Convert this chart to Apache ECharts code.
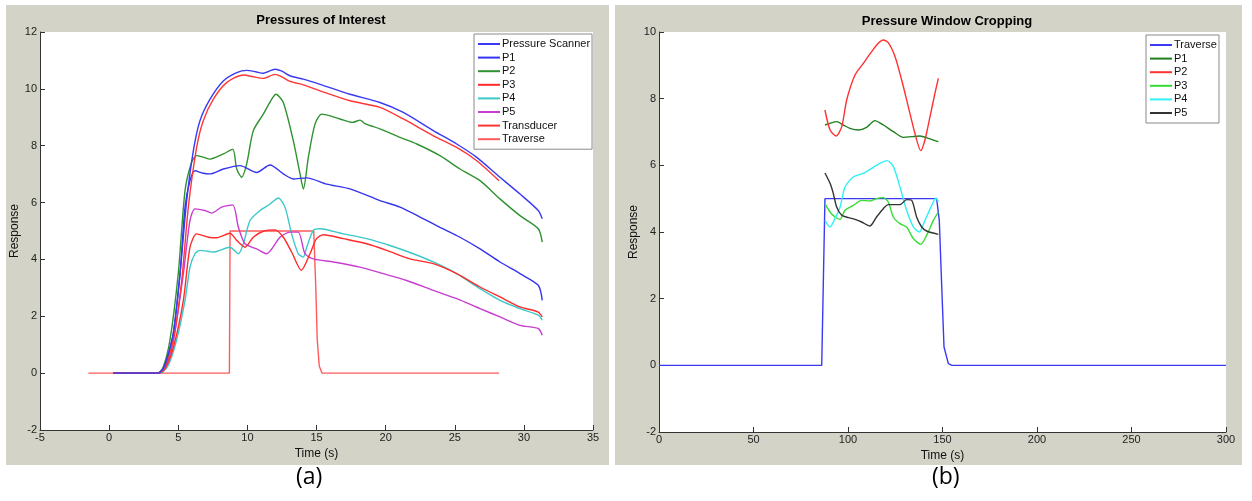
<!DOCTYPE html>
<html>
<head>
<meta charset="utf-8">
<script src="https://cdn.jsdelivr.net/npm/echarts@6/dist/echarts.min.js"></script>
<style>
  html, body { margin: 0; padding: 0; background: #ffffff; }
  #chart { width: 1252px; height: 501px; }
</style>
</head>
<body>
<div id="chart"></div>
<script>
// ---- (a) Pressures of Interest: [time (s), response] ----
const pressureScanner = [[0.3,0],[3.5,0],[3.9,0.15],[4.16,0.46],[4.64,1.39],[5.13,3.5],[5.61,6.07],[6.09,7.82],[6.57,8.88],[7.3,9.64],[8.26,10.28],[9.23,10.57],[9.95,10.65],[10.6,10.6],[11.15,10.55],[12.0,10.69],[12.5,10.62],[13.08,10.46],[14.05,10.34],[15.25,10.16],[17.42,9.81],[19.59,9.52],[21.28,9.17],[23.45,8.53],[25.14,8.06],[26.59,7.59],[28.27,6.89],[29.72,6.30],[31.04,5.72],[31.33,5.43]];
const p1A = [[0.3,0],[3.5,0],[3.9,0.15],[4.16,0.46],[4.64,1.39],[5.13,3.5],[5.49,5.84],[5.85,6.77],[6.21,7.12],[6.8,7.03],[7.3,7.01],[8.26,7.18],[9.47,7.30],[10.67,7.06],[11.64,7.32],[12.6,7.01],[13.32,6.83],[14.29,6.87],[15.73,6.65],[17.42,6.48],[19.59,6.07],[21.04,5.84],[22.49,5.49],[23.93,5.13],[25.38,4.78],[26.83,4.37],[28.27,3.91],[29.72,3.50],[31.04,3.09],[31.33,2.56]];
const p2A = [[0.3,0],[3.5,0],[3.9,0.2],[4.4,1.16],[5.0,3.5],[5.49,6.42],[5.97,7.42],[6.33,7.65],[6.8,7.6],[7.3,7.53],[8.26,7.71],[8.94,7.88],[9.23,7.18],[9.59,6.89],[9.95,7.36],[10.43,8.53],[11.15,9.11],[11.76,9.64],[12.07,9.81],[12.6,9.52],[13.32,8.18],[13.81,7.01],[14.05,6.48],[14.41,7.59],[14.89,8.76],[15.38,9.11],[16.7,8.94],[17.6,8.82],[18.15,8.9],[18.5,8.78],[19.59,8.59],[21.04,8.29],[22.25,8.06],[23.93,7.65],[25.38,7.18],[26.83,6.77],[28.27,6.13],[29.72,5.54],[31.04,5.08],[31.33,4.61]];
const p3A = [[0.3,0],[3.6,0],[4.1,0.2],[4.7,1.0],[5.37,2.56],[5.85,4.43],[6.33,4.90],[7.18,4.78],[7.78,4.76],[8.74,4.92],[9.23,4.67],[9.83,4.43],[10.43,4.78],[11.15,4.99],[12.0,5.04],[12.6,4.78],[13.2,4.26],[13.9,3.62],[14.53,4.2],[15.0,4.73],[15.5,4.87],[16.94,4.73],[18.63,4.55],[20.08,4.32],[21.76,4.02],[23.45,3.85],[25.14,3.50],[26.83,3.03],[28.27,2.68],[29.72,2.33],[31.04,2.15],[31.33,1.98]];
const p4A = [[0.3,0],[3.7,0],[4.3,0.3],[4.88,1.16],[5.49,2.56],[5.85,3.73],[6.21,4.2],[6.57,4.32],[7.54,4.26],[8.74,4.43],[9.35,4.20],[9.71,4.55],[10.19,5.37],[10.91,5.72],[11.64,5.95],[12.24,6.16],[12.72,5.84],[13.2,4.90],[13.68,4.2],[14.05,4.08],[14.29,4.43],[14.77,5.02],[15.25,5.08],[16.94,4.90],[18.63,4.73],[20.31,4.49],[22.0,4.20],[23.45,3.91],[25.14,3.50],[26.83,2.97],[28.27,2.56],[29.72,2.27],[31.04,2.04],[31.33,1.86]];
const p5A = [[0.3,0],[3.5,0],[4.0,0.15],[4.6,1.0],[5.37,3.5],[5.85,5.37],[6.21,5.78],[6.93,5.72],[7.42,5.63],[8.14,5.84],[8.94,5.92],[9.35,5.13],[9.83,4.55],[10.67,4.37],[11.39,4.20],[12.36,4.78],[13.08,4.96],[13.68,4.96],[14.17,4.20],[14.77,4.02],[16.22,3.91],[18.15,3.73],[19.83,3.50],[21.52,3.26],[23.45,2.91],[25.14,2.62],[26.83,2.27],[28.27,1.98],[29.72,1.68],[31.04,1.57],[31.33,1.33]];
const transducerA = [[0.3,0],[3.6,0],[4.0,0.2],[4.64,1.16],[5.25,3.26],[5.73,5.84],[6.33,7.94],[6.81,8.88],[7.54,9.64],[8.5,10.22],[9.71,10.49],[10.5,10.42],[11.15,10.37],[12.0,10.51],[12.5,10.42],[13.08,10.26],[14.05,10.14],[15.25,9.93],[17.42,9.58],[19.59,9.35],[21.28,8.94],[23.45,8.35],[25.14,7.94],[26.59,7.47],[28.2,6.77]];
const traverseA = [[-1.5,0],[8.7,0],[8.75,5],[14.8,5],[14.95,3],[15.05,1.2],[15.2,0.25],[15.4,0],[28.2,0]];

// ---- (b) Pressure Window Cropping: [time (s), response] ----
const traverseB = [[0,0],[86.1,0],[87.8,5],[146.9,5],[148.3,4.35],[149.6,2.35],[150.8,0.55],[153.1,0.05],[155,0],[300,0]];
const p1B = [[87.8,7.21],[90.5,7.26],[94.0,7.31],[97.5,7.21],[101.0,7.11],[105.5,7.06],[109.8,7.14],[114.2,7.34],[118.7,7.21],[124.0,7.01],[129.3,6.84],[133.7,6.86],[138.1,6.88],[142.5,6.81],[147.8,6.71]];
const p2B = [[87.8,7.66],[90.5,7.06],[93.7,6.88],[96.7,7.16],[99.3,7.96],[103.7,8.71],[108.1,9.06],[112.5,9.41],[116.0,9.66],[118.7,9.76],[121.3,9.68],[124.9,9.26],[128.4,8.56],[131.9,7.76],[135.4,6.96],[138.5,6.44],[140.7,6.76],[143.4,7.46],[146.0,8.16],[147.8,8.61]];
const p3B = [[87.8,4.85],[90.5,4.60],[93.1,4.45],[95.8,4.38],[98.4,4.65],[102.8,4.80],[107.2,4.95],[111.6,4.93],[115.1,5.00],[118.7,5.03],[121.3,4.90],[124.0,4.45],[127.5,4.25],[131.0,4.15],[134.6,3.80],[138.5,3.63],[141.6,3.90],[145.2,4.35],[147.8,4.60]];
const p4B = [[87.8,4.35],[90.5,4.15],[93.1,4.40],[95.8,4.75],[98.4,5.35],[102.8,5.65],[108.1,5.76],[112.5,5.91],[116.9,6.06],[120.8,6.14],[124.0,5.96],[127.5,5.35],[131.0,4.65],[134.6,4.15],[137.7,4.00],[140.7,4.35],[144.3,4.80],[146.5,5.02],[147.8,4.90]];
const p5B = [[87.8,5.77],[90.5,5.46],[92.2,5.16],[94.0,4.75],[96.7,4.50],[100.2,4.43],[103.7,4.38],[107.2,4.30],[111.6,4.18],[115.1,4.45],[118.7,4.70],[121.3,4.82],[127.5,4.82],[131.0,4.97],[133.7,4.95],[136.3,4.45],[139.0,4.15],[141.6,4.03],[147.8,3.93]];

// Axis ticks
const xTicksA = { min: -5, max: 35, interval: 5 };
const yTicksA = { min: -2, max: 12, interval: 2 };
const xTicksB = { min: 0, max: 300, interval: 50 };
const yTicksB = { min: -2, max: 10, interval: 2 };

const FONT = 'Liberation Sans, Arial, sans-serif';
const PANEL = '#d4d3c8';

// Series names carry a panel prefix so both legends resolve their own colours.
const stripPrefix = n => n.replace(/^[ab]:/, '');

function line(name, data, color, gi, smooth) {
  return {
    name: name, type: 'line', data: data,
    xAxisIndex: gi, yAxisIndex: gi,
    showSymbol: false, symbol: 'none',
    smooth: smooth ? 0.25 : false,
    lineStyle: { color: color, width: 1.4 },
    itemStyle: { color: color },
    animation: false, silent: true
  };
}

function xAxis(gi, t) {
  return {
    type: 'value', gridIndex: gi, min: t.min, max: t.max, interval: t.interval,
    name: 'Time (s)', nameLocation: 'middle', nameGap: 15,
    nameTextStyle: { fontFamily: FONT, fontSize: 12, color: '#111' },
    axisLine: { show: true, onZero: false, lineStyle: { color: '#333', width: 1 } },
    axisTick: { show: true, inside: true, length: 5, lineStyle: { color: '#333' } },
    axisLabel: { fontFamily: FONT, fontSize: 11, color: '#222', margin: 2 },
    splitLine: { show: false }
  };
}

function yAxis(gi, t, gap) {
  return {
    type: 'value', gridIndex: gi, min: t.min, max: t.max, interval: t.interval,
    name: 'Response', nameLocation: 'middle', nameGap: gap, nameRotate: 90,
    nameTextStyle: { fontFamily: FONT, fontSize: 12, color: '#111' },
    axisLine: { show: true, onZero: false, lineStyle: { color: '#333', width: 1 } },
    axisTick: { show: true, inside: true, length: 5, lineStyle: { color: '#333' } },
    axisLabel: { fontFamily: FONT, fontSize: 11, color: '#222', margin: 3 },
    splitLine: { show: false }
  };
}

function legend(names, left, top) {
  return {
    data: names, left: left, top: top, orient: 'vertical',
    selectedMode: false, icon: 'rect', itemWidth: 22, itemHeight: 2,
    itemGap: 1.6, padding: [4, 2, 4, 4],
    backgroundColor: '#ffffff', borderColor: '#8a8a8a', borderWidth: 1,
    formatter: stripPrefix,
    textStyle: { fontFamily: FONT, fontSize: 11, color: '#111', lineHeight: 12, padding: [0, 0, 0, -3] }
  };
}

const chart = echarts.init(document.getElementById('chart'), null, { renderer: 'canvas' });

chart.setOption({
  backgroundColor: '#ffffff',
  animation: false,
  graphic: [
    { type: 'rect', z: -10, shape: { x: 6, y: 5, width: 603, height: 460 }, style: { fill: PANEL } },
    { type: 'rect', z: -10, shape: { x: 615, y: 5, width: 627, height: 460 }, style: { fill: PANEL } },
    { type: 'rect', z: -9, shape: { x: 40, y: 32, width: 553, height: 398 }, style: { fill: '#ffffff' } },
    { type: 'rect', z: -9, shape: { x: 659, y: 32, width: 567, height: 400 }, style: { fill: '#ffffff' } },
    { type: 'text', left: 296, top: 466, style: { text: '(a)', font: '23px "Open Sans", sans-serif', fill: '#000' } },
    { type: 'text', left: 932, top: 466, style: { text: '(b)', font: '23px "Open Sans", sans-serif', fill: '#000' } }
  ],
  title: [
    { text: 'Pressures of Interest', left: 316, top: 9, textAlign: 'center',
      textStyle: { fontFamily: FONT, fontSize: 13, fontWeight: 'bold', color: '#000' } },
    { text: 'Pressure Window Cropping', left: 942, top: 10, textAlign: 'center',
      textStyle: { fontFamily: FONT, fontSize: 13, fontWeight: 'bold', color: '#000' } }
  ],
  grid: [
    { left: 40, top: 32, width: 553, height: 398, containLabel: false },
    { left: 659, top: 32, width: 567, height: 400, containLabel: false }
  ],
  xAxis: [xAxis(0, xTicksA), xAxis(1, xTicksB)],
  yAxis: [yAxis(0, yTicksA, 15), yAxis(1, yTicksB, 18)],
  legend: [
    legend(['a:Pressure Scanner', 'a:P1', 'a:P2', 'a:P3', 'a:P4', 'a:P5', 'a:Transducer', 'a:Traverse'], 474, 34),
    legend(['b:Traverse', 'b:P1', 'b:P2', 'b:P3', 'b:P4', 'b:P5'], 1146, 35)
  ],
  series: [
    line('a:Traverse', traverseA, '#ff5a5a', 0, false),
    line('a:P4', p4A, '#3cc8c8', 0, true),
    line('a:P5', p5A, '#c83cd0', 0, true),
    line('a:P3', p3A, '#ff2a2a', 0, true),
    line('a:P2', p2A, '#2f922f', 0, true),
    line('a:P1', p1A, '#3434f0', 0, true),
    line('a:Transducer', transducerA, '#ff3636', 0, true),
    line('a:Pressure Scanner', pressureScanner, '#3a3af5', 0, true),
    line('b:Traverse', traverseB, '#3a3af5', 1, false),
    line('b:P1', p1B, '#1f7f1f', 1, true),
    line('b:P2', p2B, '#ff3030', 1, true),
    line('b:P3', p3B, '#33dd33', 1, true),
    line('b:P4', p4B, '#30f0f5', 1, true),
    line('b:P5', p5B, '#333333', 1, true)
  ]
});
</script>
</body>
</html>
